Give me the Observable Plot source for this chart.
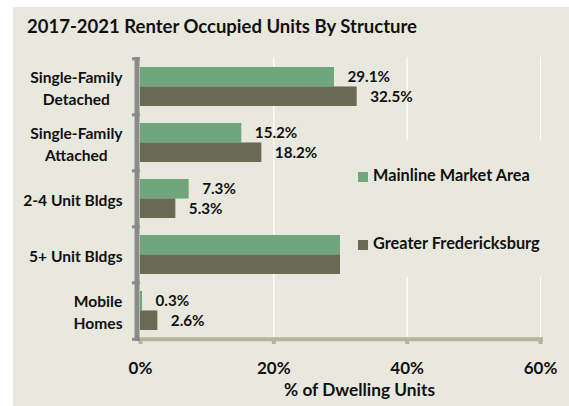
<!DOCTYPE html>
<html>
<head>
<meta charset="utf-8">
<script src="https://cdn.jsdelivr.net/npm/d3@7"></script>
<script src="https://cdn.jsdelivr.net/npm/@observablehq/plot@0.6"></script>
<style>
  html, body { margin: 0; padding: 0; background: #ffffff; }
  #wrap { position: relative; width: 569px; height: 406px; overflow: hidden; font-family: Lato, "DejaVu Sans", sans-serif; font-weight: 700; color: #111; }
  #bg { position: absolute; left: 13px; top: 7px; right: 0; bottom: 0; background: #E9E8DE; }
  #chart { position: absolute; left: 0; top: 0; }
  #title { position: absolute; left: 27px; top: 15px; font-size: 18.5px; line-height: 22px; white-space: nowrap; }
  #legend { position: absolute; left: 340px; top: 140px; width: 212px; height: 137px; background: #E9E8DE; }
  .item { position: absolute; left: 18px; height: 20px; line-height: 20px; font-size: 16.3px; white-space: nowrap; }
  .sw { display: inline-block; width: 10px; height: 10px; margin-right: 5px; vertical-align: -0.5px; }
</style>
</head>
<body>
<div id="wrap">
  <div id="bg"></div>
  <div id="chart"></div>
  <div id="title"></div>
  <div id="legend"></div>
</div>
<script>
const title = "2017-2021 Renter Occupied Units By Structure";
const categories = ["Single-Family\nDetached", "Single-Family\nAttached", "2-4 Unit Bldgs", "5+ Unit Bldgs", "Mobile\nHomes"];
const series = ["Mainline Market Area", "Greater Fredericksburg"];
const mainline = [29.1, 15.2, 7.3, 48.1, 0.3];
const greater = [32.5, 18.2, 5.3, 41.4, 2.6];
// the reference shows no value labels for this row (they sit behind the legend)
const unlabeled = ["5+ Unit Bldgs"];
const xTicks = [0, 20, 40, 60];
const xLabel = "% of Dwelling Units";
const colors = ["#70A67B", "#686A54"];

const W = 569, H = 406, mT = 57, mB = 67, mL = 140, mR = 29;
const step = (H - mT - mB) / categories.length;
const pad = 0.31;
const bw = step * (1 - pad);

const rowsA = categories.map((c, i) => ({category: c, value: mainline[i], series: series[0]}));
const rowsB = categories.map((c, i) => ({category: c, value: greater[i], series: series[1]}));
const labeled = d => !unlabeled.includes(d.category);
const fmt = v => v.toFixed(1) + "%";

const plot = Plot.plot({
  width: W, height: H,
  marginTop: mT, marginBottom: mB, marginLeft: mL, marginRight: mR,
  style: {background: "transparent", fontFamily: "Lato, 'DejaVu Sans', sans-serif", fontWeight: 700, color: "#111"},
  x: {domain: [0, 60], ticks: xTicks, tickFormat: d => d + "%"},
  y: {domain: categories, paddingInner: pad, paddingOuter: pad / 2},
  marks: [
    Plot.ruleX(xTicks.slice(1), {stroke: "#ffffff", strokeWidth: 1.2}),
    Plot.barX(rowsA, {y: "category", x: "value", fill: colors[0], insetBottom: bw / 2}),
    Plot.barX(rowsB, {y: "category", x: "value", fill: colors[1], insetTop: bw / 2}),
    Plot.text(rowsA.filter(labeled), {y: "category", x: "value", text: d => fmt(d.value), textAnchor: "start", dx: 13, dy: -bw / 4, fontSize: 15.2, fontWeight: 700, fill: "#111"}),
    Plot.text(rowsB.filter(labeled), {y: "category", x: "value", text: d => fmt(d.value), textAnchor: "start", dx: 13, dy: bw / 4, fontSize: 15.2, fontWeight: 700, fill: "#111"}),
    // x baseline
    Plot.ruleY(categories.slice(-1), {dy: step / 2, stroke: "#B3B5A0", strokeWidth: 4, insetRight: -3}),
    Plot.axisX({ticks: xTicks, tickFormat: d => d + "%", tickSize: 5, stroke: "#B3B5A0", strokeWidth: 4, tickPadding: 17, fontSize: 17, fontWeight: 700, label: null, fill: "#111"}),
    // y axis line and stubs
    Plot.ruleY(categories, {x1: 0, x2: 0, dy: -step / 2, insetLeft: -8, stroke: "#8A8A8A", strokeWidth: 3}),
    Plot.ruleY(categories.slice(-1), {x1: 0, x2: 0, dy: step / 2, insetLeft: -8, stroke: "#8A8A8A", strokeWidth: 3}),
    Plot.ruleX([0], {dx: -3.5, stroke: "#8A8A8A", strokeWidth: 5, insetBottom: -2}),
    Plot.axisY({tickSize: 0, tickPadding: 18, fontSize: 15.6, fontWeight: 700, lineHeight: 1.38, label: null, fill: "#111"}),
    Plot.text([xLabel], {frameAnchor: "bottom", dx: 19, dy: 56, fontSize: 17.3, fontWeight: 700, fill: "#111"})
  ]
});
document.getElementById("chart").appendChild(plot);

// center multi-line category labels on their longest line, keeping the block right-aligned
plot.querySelectorAll("g[aria-label='y-axis tick label'] text").forEach(t => {
  const spans = t.querySelectorAll("tspan");
  if (spans.length < 2) return;
  let maxW = 0;
  spans.forEach(s => { maxW = Math.max(maxW, s.getComputedTextLength()); });
  t.setAttribute("text-anchor", "middle");
  const x0 = +(t.getAttribute("x") || 0);
  t.setAttribute("x", x0 - maxW / 2);
  spans.forEach(s => { if (s.hasAttribute("x")) s.setAttribute("x", x0 - maxW / 2); });
});

document.getElementById("title").textContent = title;
const legend = document.getElementById("legend");
series.forEach((s, i) => {
  const item = document.createElement("div");
  item.className = "item";
  item.style.top = (i === 0 ? 25 : 93) + "px";
  item.innerHTML = `<span class="sw" style="background:${colors[i]}"></span>`;
  item.appendChild(document.createTextNode(s));
  legend.appendChild(item);
});
</script>
</body>
</html>
